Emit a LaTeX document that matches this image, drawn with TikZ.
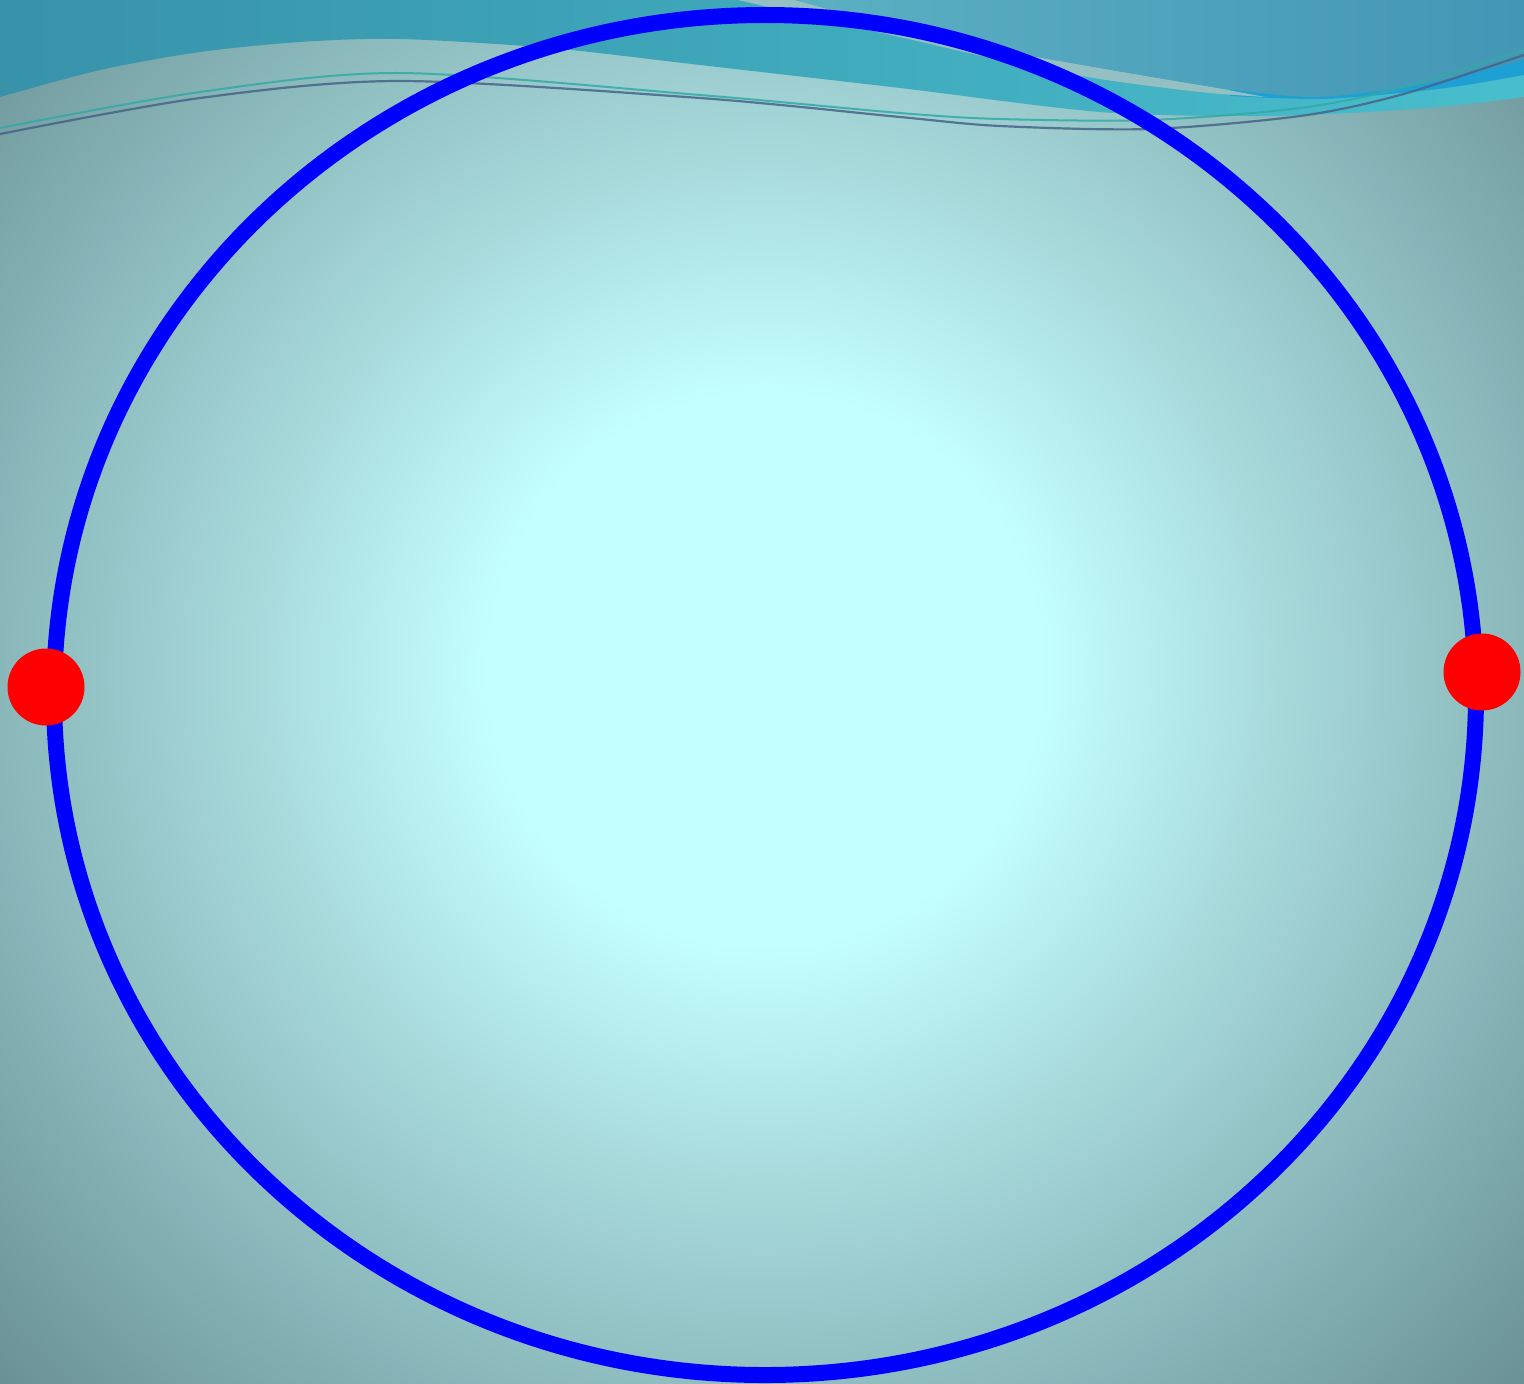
\documentclass[tikz,border=0pt]{standalone}
\usetikzlibrary{shapes.geometric}
\definecolor{bgA}{RGB}{196,255,255}
\definecolor{bgB}{RGB}{168,218,220}
\definecolor{bgC}{RGB}{140,186,189}
\definecolor{bgD}{RGB}{104,143,148}
\definecolor{tealL}{RGB}{55,146,170}
\definecolor{tealR}{RGB}{72,190,205}
\definecolor{waveTL}{RGB}{92,176,194}
\definecolor{waveTR}{RGB}{68,150,182}
\definecolor{brightblue}{RGB}{30,160,212}
\definecolor{sliver}{RGB}{148,192,195}
\definecolor{lineG}{RGB}{50,170,165}
\definecolor{lineD}{RGB}{70,100,135}
\pgfdeclareradialshading{bgshade}{\pgfpoint{0bp}{0bp}}{color(0bp)=(bgA); color(6.5bp)=(bgA); color(12bp)=(bgB); color(17.5bp)=(bgC); color(25bp)=(bgD); color(50bp)=(bgD)}
\tikzset{
  ring/.style={draw=blue, line width=8pt},
  dot/.style={circle, fill=red, draw=none, inner sep=0pt, minimum size=38.5pt},
  thinG/.style={draw=lineG, line width=1pt, opacity=0.85},
  thinD/.style={draw=lineD, line width=1.1pt, opacity=0.85}
}
\begin{document}
\begin{tikzpicture}[x=0.5pt,y=-0.5pt]
\useasboundingbox (0,0) rectangle (1524,1383);
\begin{scope}
\clip (0,0) rectangle (1524,1383);
\shade[shading=bgshade] (765,670) circle [radius=530pt];
% main teal band
\shade[left color=tealL, right color=tealR] (0,0) -- (1524,0) -- (1524,97) -- plot[smooth] coordinates {(1524,97) (1450,106) (1350,113) (1250,116) (1100,112) (900,88) (700,65) (550,48) (400,39) (300,42) (200,52) (100,70) (0,97)} -- cycle;
% bright blue strip
\fill[brightblue] plot[smooth] coordinates {(1230,96) (1320,99) (1400,93) (1460,86) (1524,75)} -- (1524,30) -- (1230,60) -- cycle;
% light sliver
\fill[sliver] plot[smooth] coordinates {(738,0) (900,37) (1000,60) (1100,79) (1200,92) (1265,97)} -- plot[smooth] coordinates {(1265,97) (1200,85) (1100,68) (1000,50) (900,28) (795,0)} -- cycle;
% upper right wave
\shade[left color=waveTL, right color=waveTR] (795,0) -- plot[smooth] coordinates {(795,0) (900,28) (1000,50) (1100,68) (1200,85) (1260,93) (1320,97) (1400,88) (1460,76) (1524,60)} -- (1524,0) -- cycle;
% thin lines
\draw[thinG] plot[smooth] coordinates {(0,128) (200,92) (400,73) (700,95) (900,113) (1000,119) (1150,120) (1300,108) (1400,88) (1524,50)};
\draw[thinD] plot[smooth] coordinates {(0,134) (200,98) (400,81) (700,98) (900,117) (1000,126) (1150,129) (1300,116) (1400,95) (1524,55)};
\end{scope}
\draw[ring] (765,695) ellipse [x radius=355.5pt, y radius=340pt];
\node[dot] (d1) at (46,687) {};
\node[dot] (d2) at (1482,672) {};
\end{tikzpicture}
\end{document}
